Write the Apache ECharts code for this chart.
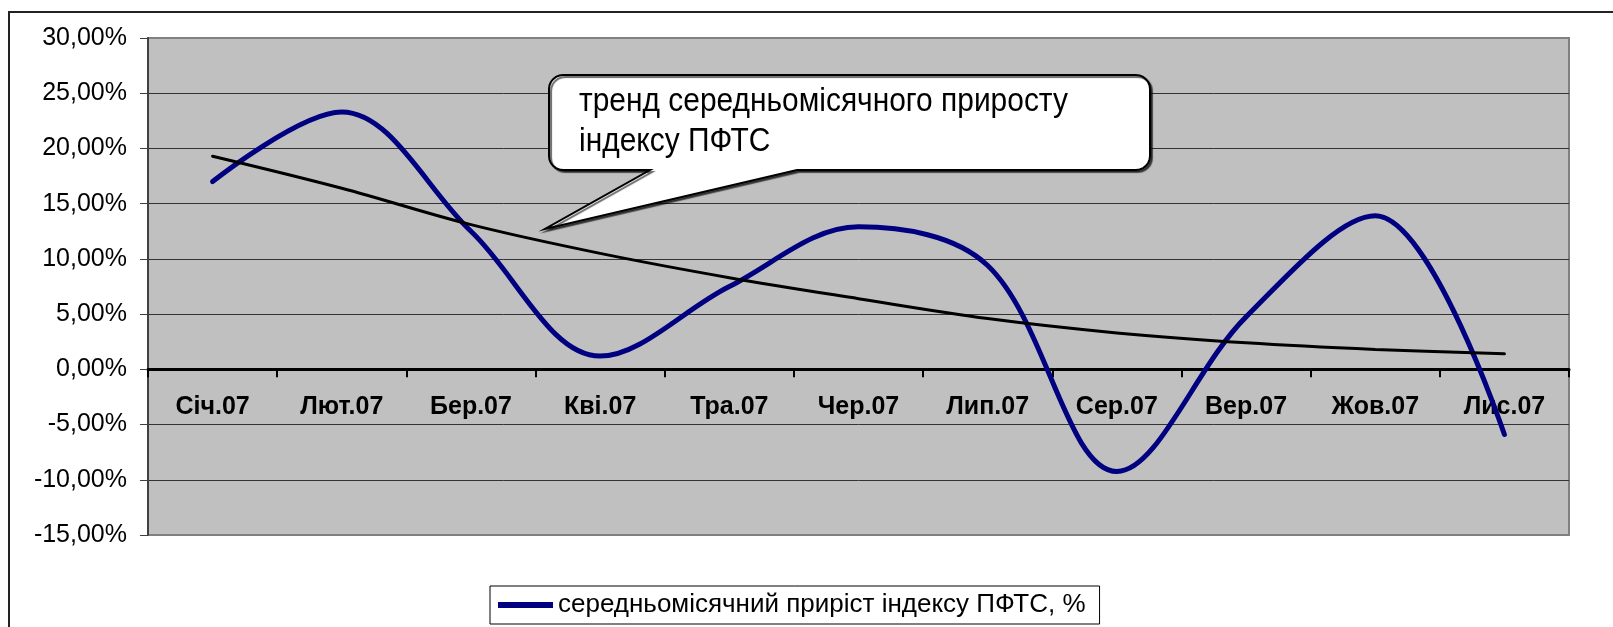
<!DOCTYPE html>
<html>
<head>
<meta charset="utf-8">
<script src="https://cdn.jsdelivr.net/npm/echarts@6/dist/echarts.min.js"></script>
<style>
    html, body { margin: 0; padding: 0; background: #fff; }
    #chart { width: 1613px; height: 627px; }
</style>
</head>
<body>
<div id="chart"></div>
<script>
// місяці 2007
var months = ['Січ.07', 'Лют.07', 'Бер.07', 'Кві.07', 'Тра.07', 'Чер.07', 'Лип.07', 'Сер.07', 'Вер.07', 'Жов.07', 'Лис.07']
// середньомісячний приріст, %
var growth = [17.0, 23.3, 12.5, 1.2, 7.5, 12.9, 9.4, -9.25, 4.75, 13.9, -5.9]
// тренд
var trend = [19.3, 16.4, 13.1, 10.5, 8.3, 6.4, 4.6, 3.3, 2.4, 1.8, 1.4]
var yTicks = [-15, -10, -5, 0, 5, 10, 15, 20, 25, 30]

var seriesName = 'середньомісячний приріст індексу ПФТС, %'
var calloutText = 'тренд середньомісячного приросту\nіндексу ПФТС'

var font = "'Liberation Sans', Arial, sans-serif"
var myChart = echarts.init(document.getElementById('chart'))

var gridTop = 38, gridBottom = 92, chartH = 627
var yMin = yTicks[0], yMax = yTicks[yTicks.length - 1]
// вісь категорій проходить через 0 (зсув від нижнього краю сітки)
var plotH = chartH - gridTop - gridBottom
var zeroOffset = -plotH * (0 - yMin) / (yMax - yMin)

// кольори ліній сітки: крайні сірі, решта темні
var gridColors = yTicks.map(function (v, i) {
    return (i === 0 || i === yTicks.length - 1) ? '#808080' : '#333'
})

// контур виноски: прямокутник із заокругленими кутами + хвостик
function calloutPoints(x1, y1, x2, y2, r, tail) {
    var pts = []
    function arc(cx, cy, a0) {
        for (var k = 0; k <= 6; k++) {
            var a = (a0 + k * 15) * Math.PI / 180
            pts.push([cx + r * Math.cos(a), cy + r * Math.sin(a)])
        }
    }
    arc(x1 + r, y1 + r, 180)
    arc(x2 - r, y1 + r, 270)
    arc(x2 - r, y2 - r, 0)
    pts.push(tail[2], tail[1], tail[0])
    arc(x1 + r, y2 - r, 90)
    return pts
}

var option = {
    animation: false,
    textStyle: { fontFamily: font },
    grid: {
        left: 148,
        top: gridTop,
        right: 44,
        bottom: gridBottom,
        containLabel: false,
        outerBoundsMode: 'none',
        show: true,
        backgroundColor: '#C0C0C0',
        borderColor: '#808080',
        borderWidth: 2
    },
    legend: {
        left: 490,
        top: 586,
        data: [seriesName],
        icon: 'rect',
        borderColor: '#000',
        borderWidth: 1,
        padding: [6, 14, 6, 8],
        itemWidth: 55,
        itemHeight: 6,
        itemGap: 5,
        textStyle: { fontSize: 26, color: '#000', fontFamily: font }
    },
    xAxis: {
        type: 'category',
        data: months,
        boundaryGap: true,
        position: 'bottom',
        offset: zeroOffset,
        axisLine: { onZero: false, lineStyle: { color: '#000', width: 3 } },
        axisTick: { show: true, length: 8, lineStyle: { color: '#000', width: 2 } },
        axisLabel: { fontSize: 25, fontWeight: 'bold', color: '#000', margin: 25 },
        splitLine: { show: false }
    },
    yAxis: {
        type: 'value',
        min: yMin,
        max: yMax,
        interval: 5,
        axisLine: { show: true, lineStyle: { color: '#404040', width: 2 } },
        axisTick: { show: true, length: 8, lineStyle: { color: '#404040', width: 1 } },
        axisLabel: {
            fontSize: 25,
            color: '#000',
            margin: 21,
            formatter: function (v) { return v.toFixed(2).replace('.', ',') + '%' }
        },
        splitLine: { show: true, lineStyle: { color: gridColors, width: 1 } }
    },
    series: [
        {
            name: seriesName,
            type: 'line',
            data: growth,
            smooth: 0.35,
            symbol: 'none',
            lineStyle: { color: '#000080', width: 5, cap: 'round' },
            itemStyle: { color: '#000080' },
            z: 3
        },
        {
            name: 'тренд',
            type: 'line',
            data: trend,
            smooth: 0.35,
            symbol: 'none',
            lineStyle: { color: '#000', width: 3, cap: 'round' },
            itemStyle: { color: '#000' },
            z: 4
        }
    ],
    graphic: [
        {
            // рамка діаграми
            type: 'rect',
            shape: { x: 9, y: 12, width: 1700, height: 700 },
            style: { fill: null, stroke: '#222', lineWidth: 2 },
            silent: true,
            z: 0
        },
        {
            // виноска
            type: 'polygon',
            shape: {
                points: calloutPoints(549, 75, 1150, 170, 14, [[650, 170], [545, 229], [797, 170]])
            },
            style: {
                fill: '#fff',
                stroke: '#000',
                lineWidth: 2,
                shadowColor: 'rgba(0,0,0,0.6)',
                shadowOffsetX: 2,
                shadowOffsetY: 2,
                shadowBlur: 1
            },
            z: 100
        },
        {
            type: 'text',
            x: 579,
            y: 82,
            scaleX: 0.88,
            style: {
                text: calloutText,
                font: "34px 'Liberation Sans', Arial",
                fill: '#000',
                lineHeight: 40,
                align: 'left',
                verticalAlign: 'top'
            },
            z: 101
        }
    ]
}

myChart.setOption(option)
</script>
</body>
</html>
